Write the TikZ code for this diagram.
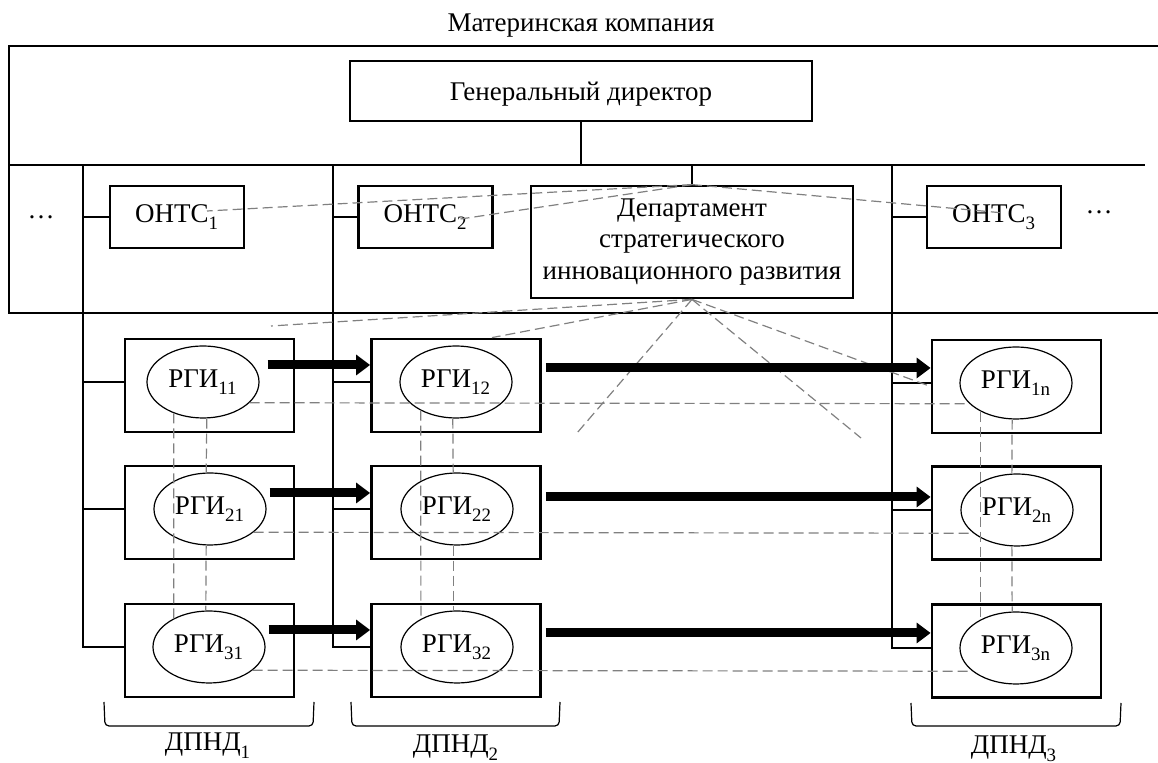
\documentclass[tikz,border=0pt]{standalone}
\usepackage{fontspec}
\setmainfont{Liberation Serif}
\definecolor{LinkGray}{RGB}{128,128,128}
\usetikzlibrary{arrows.meta, calc, shapes.geometric}
\newcommand{\lowidx}[1]{\raisebox{-1.5pt}{\textsubscript{#1}}}

\begin{document}
\begin{tikzpicture}[x=0.5pt, y=-0.5pt,
    font=\fontsize{13.5}{15.75}\selectfont,
    box/.style={draw, line width=1.4pt, inner sep=0pt},
    oval/.style={draw, ellipse, line width=0.6pt, minimum width=56pt, minimum height=36pt, inner sep=0pt},
    rgibox/.style={draw, line width=1.4pt, minimum width=84.5pt, minimum height=46.5pt},
    thinline/.style={line width=0.6pt},
    dashline/.style={LinkGray, line width=0.6pt, dash pattern=on 5pt off 2.5pt},
    bigarrow/.style={line width=4.5pt, -{Triangle[length=7pt, width=10pt]}},
    bracketline/.style={line width=0.6pt, rounded corners=2pt}]
  \useasboundingbox (0,0) rectangle (1158,763);
  \node[anchor=base] (title) at (581,32) {Материнская компания};
  \draw[line width=1.4pt] (1165,46) -- (9,46) -- (9,313) -- (1165,313);
  \node[box, minimum width=231pt, minimum height=30pt, text depth=0pt] (dir) at (581,91) {Генеральный директор};
  \coordinate (hL) at (9,165);
  \coordinate (hR) at (1145,165);
  \coordinate (t1) at (83,165);
  \coordinate (t2) at (333,165);
  \coordinate (t3) at (892,165);
  \draw[thinline] (hL) -- (hR);
  \draw[thinline] (dir.south) -- (dir.south |- hL);
  \node (dotsL) at (41,217) {\ldots};
  \node (dotsR) at (1099,212) {\ldots};
  \node[box, minimum width=67pt, minimum height=31pt] (o1) at (177,217) {ОНТС\lowidx{1}};
  \node[box, minimum width=67pt, minimum height=31pt] (o2) at (425.5,217) {ОНТС\lowidx{2}};
  \node[box, minimum width=67pt, minimum height=31pt] (o3) at (994,217) {ОНТС\lowidx{3}};
  \node[box, minimum width=161pt, minimum height=56pt, align=center] (dep) at (692,242) {Департамент\\стратегического\\инновационного развития};
  \draw[thinline] (dep.north) -- (dep.north |- hL);
  \node[rgibox] (b11) at (209.5,385.5) {};
  \node[rgibox] (b21) at (209.5,512.5) {};
  \node[rgibox] (b31) at (209.5,650.5) {};
  \node[rgibox] (b12) at (456,385.5) {};
  \node[rgibox] (b22) at (456,512.5) {};
  \node[rgibox] (b32) at (456,650.5) {};
  \node[rgibox] (b1n) at (1016.5,386.5) {};
  \node[rgibox] (b2n) at (1016.5,513) {};
  \node[rgibox] (b3n) at (1016.5,651) {};
  \node[oval] (e11) at (203,382) {РГИ\lowidx{11}};
  \node[oval] (e21) at (210,509) {РГИ\lowidx{21}};
  \node[oval] (e31) at (209,647) {РГИ\lowidx{31}};
  \node[oval] (e12) at (456,382) {РГИ\lowidx{12}};
  \node[oval] (e22) at (457,509) {РГИ\lowidx{22}};
  \node[oval] (e32) at (457,647) {РГИ\lowidx{32}};
  \node[oval] (e1n) at (1016,383) {РГИ\lowidx{1n}};
  \node[oval] (e2n) at (1017,510) {РГИ\lowidx{2n}};
  \node[oval] (e3n) at (1016,648) {РГИ\lowidx{3n}};
  \draw[thinline] (t1 |- o1) -- (o1.west);
  \draw[thinline] (t2 |- o2) -- (o2.west);
  \draw[thinline] (t3 |- o3) -- (o3.west);
  \draw[thinline] (t1) |- (e31 -| b31.west);
  \draw[thinline] (t1 |- e11) -- (e11 -| b11.west);
  \draw[thinline] (t1 |- e21) -- (e21 -| b21.west);
  \draw[thinline] (t2) |- (e32 -| b32.west);
  \draw[thinline] (t2 |- e12) -- (e12 -| b12.west);
  \draw[thinline] (t2 |- e22) -- (e22 -| b22.west);
  \draw[thinline] (t3) |- (e3n -| b3n.west);
  \draw[thinline] (t3 |- e1n) -- (e1n -| b1n.west);
  \draw[thinline] (t3 |- e2n) -- (e2n -| b2n.west);
  \draw[dashline] (dep.north) -- ($(o1.center)+(30,-6)$);
  \draw[dashline] (dep.north) -- ($(o2.center)+(35,2)$);
  \draw[dashline] (dep.north) -- ($(o3.center)+(10,-4)$);
  \coordinate (d1) at (271,326);
  \coordinate (d2) at (577,433);
  \coordinate (d3) at (861,438);
  \draw[dashline] (dep.south) -- (d1);
  \draw[dashline] (dep.south) -- ($(b12.north)+(36,0)$);
  \draw[dashline] (dep.south) -- (d2);
  \draw[dashline] (dep.south) -- (d3);
  \draw[dashline] (dep.south) -- (b1n.west);
  \coordinate (a11) at ($(e11.east)+(8,-17)$);
  \coordinate (a21) at ($(e21.east)+(3,-16)$);
  \coordinate (a31) at ($(e31.east)+(3,-17)$);
  \coordinate (a12) at ($(b12.east)+(4,-17.5)$);
  \coordinate (a22) at ($(b22.east)+(4,-15.5)$);
  \coordinate (a32) at ($(b32.east)+(4,-17.5)$);
  \draw[bigarrow] (a11) -- (a11 -| b12.west);
  \draw[bigarrow] (a21) -- (a21 -| b22.west);
  \draw[bigarrow] (a31) -- (a31 -| b32.west);
  \draw[bigarrow] (a12) -- (a12 -| b1n.west);
  \draw[bigarrow] (a22) -- (a22 -| b2n.west);
  \draw[bigarrow] (a32) -- (a32 -| b3n.west);
  \draw[dashline] (e11.-24) -- (e1n.204);
  \draw[dashline] (e21.-28) -- (e2n.208);
  \draw[dashline] (e31.-28) -- (e3n.208);
  \draw[dashline] (e11.227) -- (e31.141);
  \draw[dashline] (e11.276) -- (e21.96);
  \draw[dashline] (e21.264) -- (e31.95);
  \draw[dashline] (e12.219) -- (e32.142);
  \draw[dashline] (e12.265) -- (e22.96);
  \draw[dashline] (e22.264) -- (e32.96);
  \draw[dashline] (e1n.219) -- (e3n.141);
  \draw[dashline] (e1n.264) -- (e2n.98);
  \draw[dashline] (e2n.262) -- (e3n.96);
  \draw[bracketline] (104,702) -- (105,726) -- (313,726) -- (314,702);
  \draw[bracketline] (351,702) -- (352,726) -- (559,726) -- (560,702);
  \draw[bracketline] (911,703) -- (912,726) -- (1120,726) -- (1121,703);
  \node[anchor=base] (p1) at (208,751) {ДПНД\lowidx{1}};
  \node[anchor=base] (p2) at (456,753) {ДПНД\lowidx{2}};
  \node[anchor=base] (p3) at (1014,754) {ДПНД\lowidx{3}};
\end{tikzpicture}
\end{document}
